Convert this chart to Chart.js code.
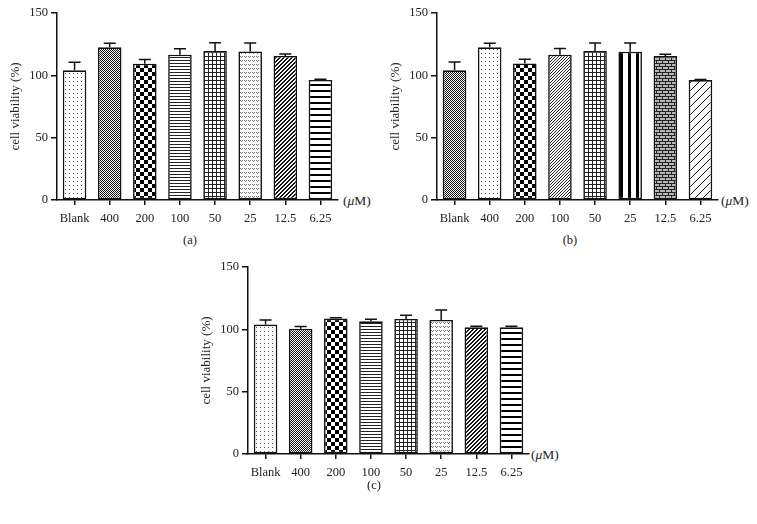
<!DOCTYPE html>
<html>
<head>
<meta charset="utf-8">
<script src="https://cdn.jsdelivr.net/npm/chart.js@4"></script>
<style>
  html, body { margin: 0; padding: 0; background: #fff; }
  #wrap { position: relative; width: 757px; height: 524px; overflow: hidden; background: #fff; }
  canvas { position: absolute; }
  .lbl { position: absolute; font-family: "Liberation Serif", serif; color: #222; white-space: nowrap; }
  .unit { font-size: 13.5px; line-height: 16px; }
  .panel { font-size: 12.5px; line-height: 14px; transform: translateX(-50%); }
</style>
</head>
<body>
<div id="wrap">
  <canvas id="ca" width="340" height="230" style="left:0px;top:0px;width:340px;height:230px"></canvas>
  <canvas id="cb" width="340" height="230" style="left:380px;top:0px;width:340px;height:230px"></canvas>
  <canvas id="cc" width="340" height="230" style="left:191px;top:254px;width:340px;height:230px"></canvas>
  <div class="lbl unit" style="left:343px;top:193px">(<i>μ</i>M)</div>
  <div class="lbl unit" style="left:721px;top:193px">(<i>μ</i>M)</div>
  <div class="lbl unit" style="left:531px;top:447px">(<i>μ</i>M)</div>
  <div class="lbl panel" style="left:190px;top:233px">(a)</div>
  <div class="lbl panel" style="left:570px;top:233px">(b)</div>
  <div class="lbl panel" style="left:374px;top:478px">(c)</div>
</div>
<script>
// ---- data ----
const categories = ['Blank', '400', '200', '100', '50', '25', '12.5', '6.25'];
const yTicks = [0, 50, 100, 150];

const valuesA = [104, 122.5, 109.3, 116.5, 119.5, 119.2, 115.5, 96.3];
const errorsA = [6.5, 3.2, 3.5, 4.8, 6.6, 6.8, 1.7, 0.5];

const valuesB = [104, 122.5, 109.5, 116.5, 119.5, 119, 115.5, 96.2];
const errorsB = [6.6, 3.2, 3.4, 5.0, 6.5, 7.0, 1.5, 0.5];

const valuesC = [103.8, 100.5, 108.6, 106.4, 108.3, 107.5, 101.6, 101.6];
const errorsC = [3.7, 1.8, 0.7, 1.6, 2.9, 8.0, 0.9, 0.9];

const patternsA = ['dots', 'fine', 'checker', 'hlines', 'grid', 'wavy', 'diag', 'hthick'];
const patternsB = ['fine', 'dots', 'checker', 'diag2', 'grid', 'vthick', 'brick', 'diagsparse'];
const patternsC = ['dots', 'fine', 'checker', 'hlines', 'grid', 'wavy', 'diag', 'hthick'];

// ---- patterns ----
function makePattern(type) {
  const defs = {
    dots:       { w: 4, h: 4, fn: (x, y) => (x === 1 && y === 1) ? '#555' : null },
    fine:       { w: 2, h: 2, fn: (x, y) => ((x + y) % 2 === 0) ? '#111' : null },
    checker:    { w: 8, h: 8, fn: (x, y) => ((Math.floor(x / 4) + Math.floor(y / 4)) % 2 === 0) ? '#000' : null },
    hlines:     { w: 1, h: 3, fn: (x, y) => (y === 0) ? '#222' : null },
    grid:       { w: 4, h: 4, fn: (x, y) => (x === 0 || y === 0) ? '#222' : null },
    wavy:       { w: 4, h: 4, fn: (x, y) => ((y === 0 && (x === 0 || x === 2)) || (y === 1 && x === 1)) ? '#777' : null },
    diag:       { w: 4, h: 4, fn: (x, y) => ((x + y) % 4 < 2) ? '#111' : null },
    hthick:     { w: 1, h: 6, fn: (x, y) => (y < 2) ? '#000' : null },
    diag2:      { w: 3, h: 3, fn: (x, y) => ((x + y) % 3 === 0) ? '#222' : null },
    vthick:     { w: 8, h: 1, fn: (x, y) => (x < 3) ? '#000' : null },
    brick:      { w: 6, h: 6, fn: (x, y) => (y === 0 || y === 3 || (y < 3 && x === 0) || (y > 3 && x === 3)) ? '#222' : '#b8b8b8' },
    diagsparse: { w: 8, h: 8, fn: (x, y) => ((x + y) % 8 === 0) ? '#111' : null }
  };
  const d = defs[type];
  const c = document.createElement('canvas');
  c.width = d.w; c.height = d.h;
  const g = c.getContext('2d');
  g.fillStyle = '#fff';
  g.fillRect(0, 0, d.w, d.h);
  for (let y = 0; y < d.h; y++) {
    for (let x = 0; x < d.w; x++) {
      const col = d.fn(x, y);
      if (col) { g.fillStyle = col; g.fillRect(x, y, 1, 1); }
    }
  }
  return c;
}

// ---- error bar plugin ----
const errorBarPlugin = {
  id: 'errorbars',
  afterDatasetsDraw(chart, args, opts) {
    const ctx = chart.ctx;
    const yScale = chart.scales.y;
    const meta = chart.getDatasetMeta(0);
    const vals = chart.data.datasets[0].data;
    ctx.save();
    ctx.strokeStyle = '#111';
    ctx.lineWidth = 1.5;
    meta.data.forEach((el, i) => {
      const x = el.x;
      const y0 = el.y;
      const y1 = yScale.getPixelForValue(vals[i] + opts.errors[i]);
      ctx.beginPath();
      ctx.moveTo(x, y0);
      ctx.lineTo(x, y1);
      ctx.moveTo(x - 6, y1);
      ctx.lineTo(x + 6, y1);
      ctx.stroke();
    });
    ctx.restore();
  }
};

Chart.defaults.font.family = '"Liberation Serif", serif';
Chart.defaults.font.size = 12.5;
Chart.defaults.color = '#222';

function makeChart(id, values, errors, patterns) {
  const canvas = document.getElementById(id);
  const ctx = canvas.getContext('2d');
  const fills = patterns.map(p => ctx.createPattern(makePattern(p), 'repeat'));
  return new Chart(canvas, {
    type: 'bar',
    data: {
      labels: categories,
      datasets: [{
        data: values,
        backgroundColor: fills,
        borderColor: '#111',
        borderWidth: 1.6,
        borderSkipped: false,
        barPercentage: 0.67,
        categoryPercentage: 1.0
      }]
    },
    options: {
      responsive: false,
      devicePixelRatio: 1,
      animation: false,
      events: [],
      layout: { padding: { top: 13, right: 2, left: 0, bottom: 0 } },
      plugins: {
        legend: { display: false },
        tooltip: { enabled: false },
        errorbars: { errors: errors }
      },
      scales: {
        x: {
          offset: true,
          grid: { display: true, offset: false, drawOnChartArea: false, drawTicks: true, tickLength: 5, color: '#111', lineWidth: 1.5 },
          border: { display: true, color: '#111', width: 1.5 },
          ticks: { padding: 6, maxRotation: 0, autoSkip: false, font: { size: 12.5 }, color: '#222' },
          afterFit: (s) => { s.height = 30; }
        },
        y: {
          min: 0,
          max: 150,
          afterBuildTicks: (s) => { s.ticks = yTicks.map(v => ({ value: v })); },
          grid: { display: true, drawOnChartArea: false, drawTicks: true, tickLength: 6, color: '#111', lineWidth: 1.5 },
          border: { display: true, color: '#111', width: 1.5 },
          ticks: { padding: 3, font: { size: 12.5 }, color: '#222' },
          title: { display: true, text: 'cell viability (%)', font: { size: 13 }, color: '#222', padding: { top: 8, bottom: 0 } },
          afterFit: (s) => { s.width = 57; }
        }
      }
    },
    plugins: [errorBarPlugin]
  });
}

makeChart('ca', valuesA, errorsA, patternsA);
makeChart('cb', valuesB, errorsB, patternsB);
makeChart('cc', valuesC, errorsC, patternsC);
</script>
</body>
</html>
